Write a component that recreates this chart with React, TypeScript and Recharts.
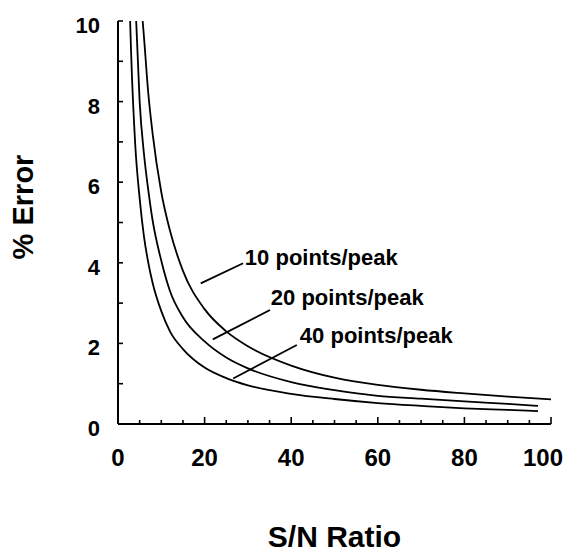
import React from 'react'
import { LineChart, Line, XAxis, YAxis, ReferenceLine, ReferenceDot } from 'recharts'

// values (x = S/N ratio, y = % error)
const snr10 = [5.7, 6, 7, 8, 10, 12, 15, 20, 25, 30, 40, 50, 60, 70, 80, 90, 100]
const err10 = [10, 9.6, 8.2, 7.2, 5.75, 4.8, 3.8, 2.85, 2.3, 1.93, 1.45, 1.15, 0.97, 0.85, 0.76, 0.68, 0.61]

const snr20 = [4.2, 5, 6, 7, 8, 10, 12, 15, 20, 25, 30, 40, 50, 60, 70, 80, 90, 97]
const err20 = [10, 8.0, 6.7, 5.8, 5.05, 4.05, 3.3, 2.65, 2.05, 1.65, 1.38, 1.04, 0.84, 0.7, 0.63, 0.56, 0.5, 0.45]

const snr40 = [2.8, 3, 4, 5, 6, 7, 8, 10, 12, 15, 20, 25, 30, 40, 50, 60, 70, 80, 90, 97]
const err40 = [10, 9.3, 6.9, 5.6, 4.65, 4.0, 3.5, 2.8, 2.3, 1.86, 1.4, 1.14, 0.96, 0.75, 0.62, 0.52, 0.45, 0.39, 0.35, 0.32]

const xTicks = [0, 5, 10, 15, 20, 25, 30, 35, 40, 45, 50, 55, 60, 65, 70, 75, 80, 85, 90, 95, 100]
const yTicks = [0, 1, 2, 3, 4, 5, 6, 7, 8, 9, 10]

// callout labels: leader line start/end and text anchor, in data units
const callouts = [
  { text: '10 points/peak', from: { x: 19.1, y: 3.49 }, to: { x: 28.9, y: 3.99 }, at: { x: 29.3, y: 3.95 } },
  { text: '20 points/peak', from: { x: 21.9, y: 2.1 }, to: { x: 35.1, y: 2.83 }, at: { x: 35.3, y: 2.95 } },
  { text: '40 points/peak', from: { x: 26.6, y: 1.13 }, to: { x: 41.3, y: 1.96 }, at: { x: 42.0, y: 2.01 } },
]

const toPoints = (xs: number[], ys: number[]) => xs.map((x, i) => ({ snr: x, err: ys[i] }))

const FONT = '"Liberation Sans", Arial, Helvetica, sans-serif'

const YTick = (props: any) => {
  const { x, y, payload } = props
  const v = payload.value
  return (
    <g>
      <line x1={x} y1={y} x2={x + 5} y2={y} stroke="#000" strokeWidth={1.6} />
      {v % 2 === 0 && (
        <text x={100} y={y + 12} textAnchor="end" fontFamily={FONT} fontWeight="bold" fontSize={22} fill="#000">
          {v}
        </text>
      )}
    </g>
  )
}

const XTick = (props: any) => {
  const { x, y, payload } = props
  const v = payload.value
  const major = v % 20 === 0
  return (
    <g>
      <line x1={x} y1={y} x2={x} y2={y - (major ? 7 : 4)} stroke="#000" strokeWidth={1.6} />
      {major && (
        <text x={v === 100 ? x - 8 : x} y={y + 42} textAnchor="middle" fontFamily={FONT} fontWeight="bold" fontSize={24} fill="#000">
          {v}
        </text>
      )}
    </g>
  )
}

const CalloutText = (text: string) => (p: any) => (
  <text x={p.cx} y={p.cy} fontFamily={FONT} fontWeight="bold" fontSize={22} fill="#000">
    {text}
  </text>
)

export default function App() {
  return (
    <div style={{ position: 'absolute', left: 0, top: 0, background: '#fff' }}>
      <LineChart width={574} height={558} margin={{ top: 21, right: 23, bottom: 0, left: 0 }}>
        <XAxis
          type="number"
          dataKey="snr"
          domain={[0, 100]}
          ticks={xTicks}
          interval={0}
          height={134}
          tickSize={0}
          tickMargin={0}
          tickLine={false}
          axisLine={{ stroke: '#000', strokeWidth: 2 }}
          tick={<XTick />}
          label={{ value: 'S/N Ratio', position: 'insideBottom', offset: 11, fontFamily: FONT, fontWeight: 'bold', fontSize: 30, fill: '#000' }}
        />
        <YAxis
          type="number"
          dataKey="err"
          domain={[0, 10]}
          ticks={yTicks}
          interval={0}
          width={118}
          tickSize={0}
          tickMargin={0}
          tickLine={false}
          axisLine={{ stroke: '#000', strokeWidth: 2 }}
          tick={<YTick />}
          label={() => (
            <text transform="translate(33,207) rotate(-90)" textAnchor="middle" fontFamily={FONT} fontWeight="bold" fontSize={29} fill="#000">
              % Error
            </text>
          )}
        />
        <Line data={toPoints(snr10, err10)} dataKey="err" type="monotone" stroke="#000" strokeWidth={1.8} dot={false} isAnimationActive={false} />
        <Line data={toPoints(snr20, err20)} dataKey="err" type="monotone" stroke="#000" strokeWidth={1.8} dot={false} isAnimationActive={false} />
        <Line data={toPoints(snr40, err40)} dataKey="err" type="monotone" stroke="#000" strokeWidth={1.8} dot={false} isAnimationActive={false} />
        {callouts.map((c) => (
          <ReferenceLine key={c.text + '-line'} segment={[c.from, c.to]} stroke="#000" strokeWidth={1.8} />
        ))}
        {callouts.map((c) => (
          <ReferenceDot key={c.text} x={c.at.x} y={c.at.y} r={0} shape={CalloutText(c.text)} />
        ))}
      </LineChart>
    </div>
  )
}
